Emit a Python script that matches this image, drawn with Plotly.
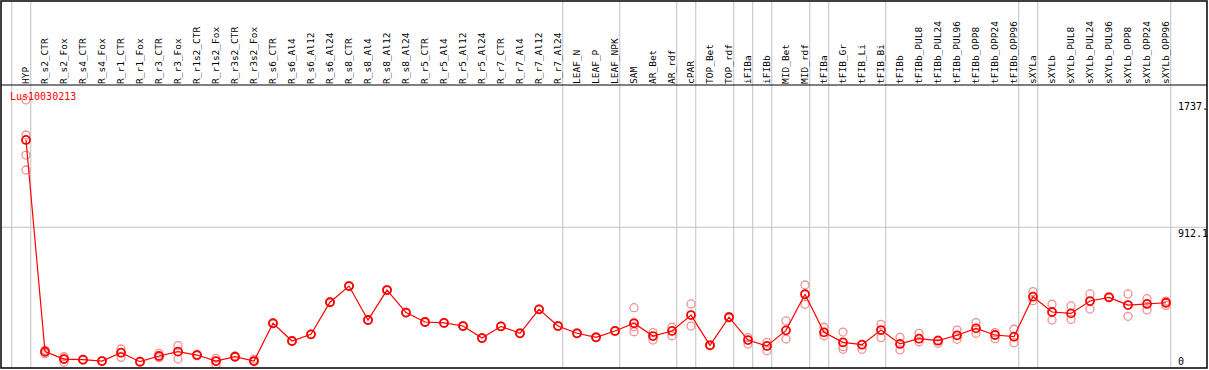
import plotly.graph_objects as go

categories = ["HYP", "R_s2_CTR", "R_s2_Fox", "R_s4_CTR", "R_s4_Fox", "R_r1_CTR", "R_r1_Fox",
              "R_r3_CTR", "R_r3_Fox", "R_r1s2_CTR", "R_r1s2_Fox", "R_r3s2_CTR", "R_r3s2_Fox",
              "R_s6_CTR", "R_s6_Al4", "R_s6_Al12", "R_s6_Al24", "R_s8_CTR", "R_s8_Al4",
              "R_s8_Al12", "R_s8_Al24", "R_r5_CTR", "R_r5_Al4", "R_r5_Al12", "R_r5_Al24",
              "R_r7_CTR", "R_r7_Al4", "R_r7_Al12", "R_r7_Al24", "LEAF_N", "LEAF_P", "LEAF_NPK",
              "SAM", "AR_Bet", "AR_rdf", "cPAR", "TOP_Bet", "TOP_rdf", "iFIBa", "iFIBb",
              "MID_Bet", "MID_rdf", "tFIBa", "tFIB_Gr", "tFIB_Li", "tFIB_Bi", "tFIBb",
              "tFIBb_PUL8", "tFIBb_PUL24", "tFIBb_PUL96", "tFIBb_OPP8", "tFIBb_OPP24",
              "tFIBb_OPP96", "sXYLa", "sXYLb", "sXYLb_PUL8", "sXYLb_PUL24", "sXYLb_PUL96",
              "sXYLb_OPP8", "sXYLb_OPP24", "sXYLb_OPP96"]

means = [1478, 106, 58, 54, 45, 99, 41, 78, 106, 84, 45, 73, 45,
         290, 175, 218, 426, 531, 311, 505, 359, 298, 292, 272, 194, 270, 225, 380, 272,
         225, 199, 240, 290, 207, 240, 343, 147, 329, 181, 143, 244, 478, 231, 166, 151,
         246, 156, 190, 177, 212, 257, 214, 203, 462, 363, 354, 434, 458, 408, 415, 423]

replicates = [
    [1737, 1510, 1380, 1283], [115, 100, 92], [73, 60, 37], [56, 52], [46, 44],
    [123, 99, 69], [42, 38], [95, 72, 67], [145, 106, 58], [88, 80], [63, 45, 19],
    [78, 70], [58, 45, 40],
    [292, 288], [177, 173], [220, 216], [428, 424], [533, 529], [313, 309], [507, 503],
    [361, 357], [300, 296], [294, 290], [274, 270], [196, 192], [272, 268], [227, 223],
    [382, 378], [274, 270], [227, 223], [201, 197],
    [242, 238], [391, 268, 235], [229, 181], [264, 209], [415, 272], [149, 145],
    [333, 325], [197, 156], [166, 112], [305, 188], [538, 413], [264, 209],
    [233, 138, 121], [153, 121], [283, 197], [199, 117], [225, 170], [160, 180],
    [246, 186], [294, 225], [229, 190], [251, 164], [495, 436], [413, 311], [402, 315],
    [480, 382], [460, 456], [480, 335], [449, 376], [434, 406],
]

separators = [-1, 0, 28, 31, 34, 35, 37, 38, 39, 41, 42, 45, 52, 53, 60]

y_max = 1834
axis_labels = [("1737.", 1737, "top"), ("912.1", 912.1, "top"), ("0", 0, "bottom")]

font_mono = "DejaVu Sans Mono"

rep_x, rep_y = [], []
for i, reps in enumerate(replicates):
    for v in reps:
        rep_x.append(i)
        rep_y.append(v)

fig = go.Figure()
fig.add_trace(go.Scatter(
    x=rep_x, y=rep_y, mode="markers",
    marker=dict(symbol="circle-open", size=8, color="#f09090", line=dict(width=1.3)),
    showlegend=False, hoverinfo="skip"))
fig.add_trace(go.Scatter(
    x=list(range(len(categories))), y=means, mode="lines+markers",
    line=dict(color="#ff0000", width=1.2),
    marker=dict(symbol="circle-open", size=8, color="#ff0000", line=dict(width=1.8)),
    showlegend=False))

shapes = []
for s in separators:
    shapes.append(dict(type="line", xref="x", yref="paper", x0=s + 0.25, x1=s + 0.25,
                       y0=0, y1=1, line=dict(color="#c0c0c0", width=1), layer="below"))
shapes.append(dict(type="line", xref="paper", yref="y", x0=0, x1=1, y0=912.1, y1=912.1,
                   line=dict(color="#c0c0c0", width=1), layer="below"))
top_dom = (368 - 85) / 367
shapes.append(dict(type="line", xref="paper", yref="paper", x0=0, x1=1, y0=top_dom, y1=top_dom,
                   line=dict(color="#000000", width=1)))
shapes.append(dict(type="rect", xref="paper", yref="paper", x0=0, x1=1, y0=0, y1=1,
                   line=dict(color="#000000", width=1.5)))

annotations = [dict(text="Lus10030213", xref="paper", yref="paper", x=(9 - 1) / 1206,
                    y=(368 - 97) / 367, xanchor="left", yanchor="middle", showarrow=False,
                    font=dict(family=font_mono, size=10, color="#ff0000"), borderpad=0)]
for txt, val, anc in axis_labels:
    annotations.append(dict(text=txt, xref="paper", yref="y", x=(1177 - 1) / 1206, y=val,
                            xanchor="left", yanchor=anc, showarrow=False, borderpad=0,
                            font=dict(family=font_mono, size=10, color="#000000")))

fig.update_layout(
    width=1209, height=370,
    margin=dict(l=1, r=2, t=1, b=2),
    paper_bgcolor="white", plot_bgcolor="white",
    shapes=shapes, annotations=annotations,
    xaxis=dict(range=[(1 - 26) / 19, (1207 - 26) / 19], side="top", tickangle=-90,
               tickmode="array", tickvals=list(range(len(categories))), ticktext=categories,
               showgrid=False, zeroline=False, showline=False, ticks="",
               tickfont=dict(family=font_mono, size=9.5, color="#000000")),
    yaxis=dict(range=[0, y_max], domain=[0, top_dom], showgrid=False, zeroline=False,
               showticklabels=False, showline=False, ticks=""),
)

fig.write_html("out.html", config={"displayModeBar": False},
               post_script="document.body.style.margin='0px';document.body.style.overflow='hidden';")
